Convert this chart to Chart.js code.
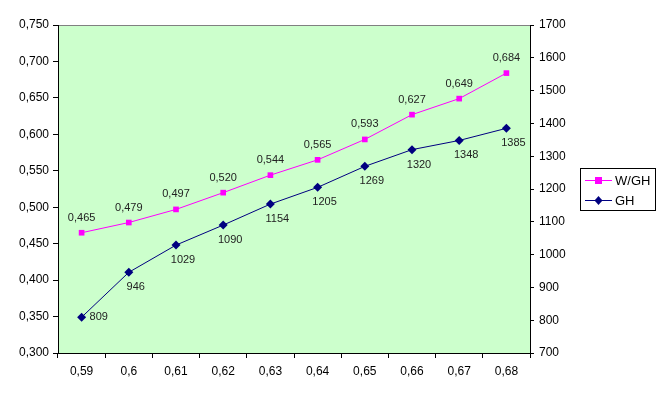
<!DOCTYPE html>
<html>
<head>
<meta charset="utf-8">
<script src="https://cdn.jsdelivr.net/npm/chart.js@4"></script>
<style>
  html, body { margin: 0; padding: 0; background: #fff; }
  #wrap { width: 663px; height: 398px; }
</style>
</head>
<body>
<div id="wrap"><canvas id="chart"></canvas></div>
<script>
// data
const categories = [0.59, 0.6, 0.61, 0.62, 0.63, 0.64, 0.65, 0.66, 0.67, 0.68];
const ratioValues = [0.465, 0.479, 0.497, 0.520, 0.544, 0.565, 0.593, 0.627, 0.649, 0.684];
const ghValues = [809, 946, 1029, 1090, 1154, 1205, 1269, 1320, 1348, 1385];
const ratioLabel = "W/GH";
const ghLabel = "GH";

const comma = (s) => String(s).replace(".", ",");

// plot background + grey top border
const plotBackground = {
  id: "plotBackground",
  beforeDraw(chart) {
    const { ctx, chartArea: a } = chart;
    ctx.save();
    ctx.fillStyle = "#CCFFCC";
    ctx.fillRect(a.left, a.top, a.right - a.left, a.bottom - a.top);
    ctx.strokeStyle = "#808080";
    ctx.lineWidth = 1;
    ctx.beginPath();
    ctx.moveTo(a.left, a.top + 0.5);
    ctx.lineTo(a.right, a.top + 0.5);
    ctx.stroke();
    ctx.restore();
  },
};

// value labels next to the points
const pointLabels = {
  id: "pointLabels",
  afterDatasetsDraw(chart) {
    const ctx = chart.ctx;
    ctx.save();
    ctx.font = "11px 'Liberation Sans', Arial, sans-serif";
    ctx.fillStyle = "#222";
    ctx.textBaseline = "middle";
    chart.data.datasets.forEach((ds, i) => {
      const meta = chart.getDatasetMeta(i);
      meta.data.forEach((pt, j) => {
        const v = ds.data[j];
        if (i === 0) {
          ctx.textAlign = "center";
          ctx.fillText(v.toFixed(3).replace(".", ","), pt.x, pt.y - 15);
        } else if (j === 0) {
          ctx.textAlign = "left";
          ctx.fillText(String(v), pt.x + 8, pt.y);
        } else {
          ctx.textAlign = "center";
          ctx.fillText(String(v), pt.x + 7, pt.y + 15);
        }
      });
    });
    ctx.restore();
  },
};

// boxed legend on the right
const boxLegend = {
  id: "boxLegend",
  afterDraw(chart) {
    const ctx = chart.ctx;
    const x = 580, y = 168, w = 75, h = 42;
    ctx.save();
    ctx.strokeStyle = "#000";
    ctx.lineWidth = 1;
    ctx.strokeRect(x + 0.5, y + 0.5, w, h);
    ctx.font = "13px 'Liberation Sans', Arial, sans-serif";
    ctx.textBaseline = "middle";
    ctx.textAlign = "left";
    chart.data.datasets.forEach((ds, i) => {
      const ly = y + 12 + i * 20;
      ctx.strokeStyle = ds.borderColor;
      ctx.beginPath();
      ctx.moveTo(x + 5, ly + 0.5);
      ctx.lineTo(x + 32, ly + 0.5);
      ctx.stroke();
      ctx.fillStyle = ds.borderColor;
      if (i === 0) {
        ctx.fillRect(x + 15, ly - 3, 7, 7);
      } else {
        ctx.beginPath();
        ctx.moveTo(x + 18.5, ly - 4);
        ctx.lineTo(x + 22.5, ly + 0.5);
        ctx.lineTo(x + 18.5, ly + 5);
        ctx.lineTo(x + 14.5, ly + 0.5);
        ctx.closePath();
        ctx.fill();
      }
      ctx.fillStyle = "#000";
      ctx.fillText(ds.label, x + 35, ly + 1);
    });
    ctx.restore();
  },
};

const tickFont = { family: "'Liberation Sans', Arial, sans-serif", size: 12 };

new Chart(document.getElementById("chart"), {
  type: "line",
  data: {
    labels: categories.map(comma),
    datasets: [
      {
        label: ratioLabel,
        data: ratioValues,
        yAxisID: "y",
        borderColor: "#FF00FF",
        backgroundColor: "#FF00FF",
        borderWidth: 1,
        pointStyle: "rect",
        pointRadius: 4,
        pointBorderWidth: 0,
        tension: 0,
      },
      {
        label: ghLabel,
        data: ghValues,
        yAxisID: "y1",
        borderColor: "#000080",
        backgroundColor: "#000080",
        borderWidth: 1,
        pointStyle: "rectRot",
        pointRadius: 4.5,
        pointBorderWidth: 0,
        tension: 0,
      },
    ],
  },
  options: {
    responsive: true,
    maintainAspectRatio: false,
    animation: false,
    devicePixelRatio: 1,
    layout: { padding: { top: 25, right: 0, left: 0, bottom: 0 } },
    plugins: {
      legend: { display: false },
      tooltip: { enabled: false },
    },
    scales: {
      x: {
        offset: true,
        afterFit: (s) => { s.height = 45; },
        grid: {
          offset: true,
          drawOnChartArea: false,
          drawTicks: true,
          tickLength: 5,
          color: "#000",
        },
        border: { display: true, color: "#000", width: 1 },
        ticks: { color: "#000", font: tickFont, padding: 6, maxRotation: 0, autoSkip: false },
      },
      y: {
        position: "left",
        min: 0.3,
        max: 0.75,
        afterFit: (s) => { s.width = 58; },
        grid: { drawOnChartArea: false, drawTicks: true, tickLength: 5, color: "#000" },
        border: { display: true, color: "#000", width: 1 },
        ticks: {
          stepSize: 0.05,
          color: "#000",
          font: tickFont,
          padding: 4,
          callback: (v) => v.toFixed(3).replace(".", ","),
        },
      },
      y1: {
        position: "right",
        min: 700,
        max: 1700,
        afterFit: (s) => { s.width = 133; },
        grid: { drawOnChartArea: false, drawTicks: true, tickLength: 4, color: "#000" },
        border: { display: true, color: "#000", width: 1 },
        ticks: { stepSize: 100, color: "#000", font: tickFont, padding: 5, callback: (v) => String(v) },
      },
    },
  },
  plugins: [plotBackground, pointLabels, boxLegend],
});
</script>
</body>
</html>
